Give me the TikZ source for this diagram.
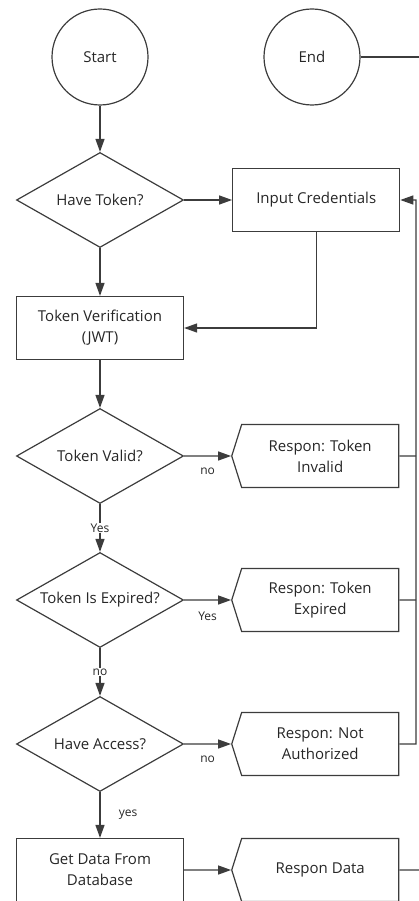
\documentclass[tikz,border=0pt]{standalone}
\usepackage{fontspec}
\setmainfont{Open Sans}
\usetikzlibrary{positioning,shapes.geometric,shapes.symbols,arrows.meta}
\definecolor{linegray}{HTML}{3C3C3C}
\definecolor{textgray}{HTML}{262626}

\begin{document}
\begin{tikzpicture}[x=1pt, y=1pt, >={Triangle[length=13pt,width=9pt]},
  every node/.style={text=textgray, font=\fontsize{15}{21}\selectfont},
  terminal/.style={circle, draw=linegray, line width=1.2pt, minimum size=96pt, inner sep=0pt},
  process/.style={rectangle, draw=linegray, line width=1.2pt, minimum width=167pt, minimum height=63pt, align=center},
  decision/.style={diamond, draw=linegray, line width=1.2pt, aspect=1.76, minimum width=167pt, minimum height=95pt, inner sep=0pt},
  respbox/.style={signal, signal to=west, signal pointer angle=145, draw=linegray, line width=1.2pt, minimum width=167pt, minimum height=63pt, align=center},
  line/.style={draw=linegray, line width=1.2pt},
  lbl/.style={font=\fontsize{12}{14}\selectfont}]
\useasboundingbox (0,0) rectangle (419,-901);

% ----------------- Left column -----------------
\node (start) [terminal] at (100,-57) {Start};
\node (haveToken) [decision] at (100,-200) {Have Token?};
\node (verify) [process] at (100,-328) {Token Verification\\(JWT)};
\node (valid) [decision] at (100,-456) {Token Valid?};
\node (expired) [decision] at (100,-600) {Token Is Expired?};
\node (access) [decision] at (100,-744) {Have Access?};
\node (getData) [process] at (100,-870) {Get Data From\\Database};

% ----------------- Right column -----------------
\node (end) [terminal] at (312,-57) {End};
\node (credentials) [process, right=48pt of haveToken] {Input Credentials};
\node (invalid) [respbox, right=47pt of valid] {Respon: Token\\Invalid};
\node (expiredResp) [respbox, right=47pt of expired] {Respon: Token\\Expired};
\node (notAuth) [respbox, right=47pt of access] {Respon: Not\\Authorized};
\node (dataResp) [respbox, right=47pt of getData] {Respon Data};

\coordinate (rail) at (416,-744);
\coordinate (endOut) at (419,-57);
\coordinate (dataOut) at (419,-870);

% ----------------- Arrows -----------------
\draw[line, ->] (start) -- (haveToken);
\draw[line, ->] (haveToken) -- (credentials);
\draw[line, ->] (haveToken) -- (verify);
\draw[line, ->] (credentials) |- (verify);
\draw[line, ->] (verify) -- (valid);

\draw[line, ->] (valid) -- node[lbl, below=8pt] {no} (invalid);
\draw[line, ->] (valid) -- node[lbl, fill=white, inner sep=1pt] {Yes} (expired);
\draw[line, ->] (expired) -- node[lbl, below=8pt] {Yes} (expiredResp);
\draw[line, ->] (expired) -- node[lbl, fill=white, inner sep=1pt] {no} (access);
\draw[line, ->] (access) -- node[lbl, below=8pt] {no} (notAuth);
\draw[line, ->] (access) -- node[lbl, right=15pt] {yes} (getData);
\draw[line, ->] (getData) -- (dataResp);

% back to the credentials
\draw[line, ->] (notAuth) -- (rail) |- (credentials);
\draw[line] (invalid) -- (invalid -| rail);
\draw[line] (expiredResp) -- (expiredResp -| rail);

\draw[line] (end) -- (endOut);
\draw[line] (dataResp) -- (dataOut);
\end{tikzpicture}
\end{document}
